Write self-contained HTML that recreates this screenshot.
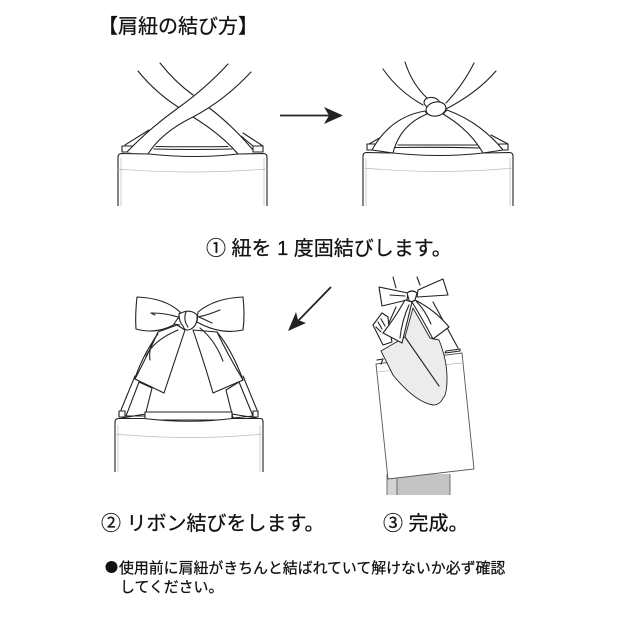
<!DOCTYPE html>
<html><head><meta charset="utf-8"><style>
html,body{margin:0;padding:0;background:#fff}
svg{display:block}
text{font-family:"Liberation Sans","Noto Sans CJK JP",sans-serif;fill:#111;stroke:#111;stroke-width:.25}
.l{fill:none;stroke:#222;stroke-width:1.1;stroke-linecap:round;stroke-linejoin:round}
.w{fill:#fff;stroke:#222;stroke-width:1.1;stroke-linejoin:round}
.s{fill:none;stroke:#bbb;stroke-width:.7}
</style></head><body>
<svg width="620" height="620" viewBox="0 0 620 620" xmlns="http://www.w3.org/2000/svg">
<rect width="620" height="620" fill="#fff"/>
<text x="98" y="33" font-size="20">【肩紐の結び方】</text>

<!-- panel 1 -->
<g>
<path class="w" d="M122 146H133V152H122Z"/>
<path class="w" d="M253 146H263V152H253Z"/>
<path class="l" d="M125 145L149 130M133 147L147 133M263 146L243 133M253 146L241 136"/>
<path class="l" d="M156 146.500Q192 147 228 146.500M154 149Q192 150 232 149"/>
<path class="l" d="M138 71Q155 92 178 107M193 117Q222 135 238 154"/>
<path class="l" d="M160 63Q175 82 193 95M208 107Q232 125 253 150"/>
<path fill="#fff" d="M127 152Q150 128 178 108Q206 88 228 64L251 72Q225 100 193 117Q162 132 148 154Z"/>
<path class="l" d="M127 152Q150 128 178 108Q206 88 228 64M251 72Q225 100 193 117Q162 132 148 154"/>
<path class="w" d="M118 206V157Q118 154 121 153.500L149 154Q195 159 238 154L264 153.500Q267 154 267 157V206" />
<path class="s" d="M121 206V158M264 206V158M118 169Q190 175 267 169"/>
</g>

<!-- arrow 1 -->
<path d="M280 115.500H332" stroke="#222" stroke-width="1.800" fill="none"/>
<path d="M343 115.500L324 107L329 115.500L324 124Z" fill="#222"/>

<!-- panel 2 -->
<g>
<path class="w" d="M367 144H375V150H367Z"/>
<path class="w" d="M499 144H508V150H499Z"/>
<path class="l" d="M369 144L383 136M374 147L381 139M508 144L491 135M499 145L490 138"/>
<path class="l" d="M398 145H478M395 147.500Q440 147 480 148"/>
<path class="l" d="M383 69Q398 91 423 105M405 62Q412 84 427 98M474 63Q463 85 446 103M496 71Q477 93 446 109"/>
<path class="w" d="M372 150Q390 117 425 111L427 114Q400 125 393 153ZM503 150Q480 122 447 110L443 114Q470 130 483 153Z"/>
<ellipse class="w" cx="432" cy="103" rx="8" ry="5.500" transform="rotate(10 432 103)"/>
<ellipse class="w" cx="436" cy="109" rx="10" ry="7" transform="rotate(-12 436 109)"/>
<path class="w" d="M363 206V156Q363 153 366 152.500L393 153Q440 158 483 153L510 152.500Q513 153 513 156V206"/>
<path class="s" d="M366 206V158M510 206V158M363 168Q440 175 513 168"/>
</g>

<text x="206" y="255" font-size="20">① 紐を 1 度固結びします。</text>

<!-- arrow 2 -->
<path d="M331 287L297 322" stroke="#222" stroke-width="1.800" fill="none"/>
<path d="M288 331L306 323L298 320L296 312Z" fill="#222"/>

<!-- panel 3: bow -->
<g>
<path class="w" d="M119 411H125V417H119ZM253 411H258V417H253Z"/>
<path class="l" d="M121 410L135 376M257 410L243 376M160 332Q145 350 135 378M217 332Q232 350 243 380"/>
<path class="w" d="M126 416L139 382L152 388L146 412V416Z"/>
<path class="w" d="M233 418L226 390L239 382L253 416Z"/>
<path class="w" d="M145 412H232V420H145Z"/>
<path class="l" d="M122 418L145 414M232 414L256 418"/>
<path class="w" d="M115 472V422Q115 419 118 418.500H144Q190 424 232 418.500L261 418.500Q263 419 263 422V472"/>
<path class="s" d="M118 472V425M260 472V425M115 434Q190 441 263 434"/>
<path class="w" d="M137 297Q165 298 180 312L177 323Q157 335 136 329Q135 315 137 297Z"/>
<path class="w" d="M243 297Q215 298 198 312L197 322Q220 335 243 330Q245 315 243 297Z"/>
<path class="w" d="M177 325L158 332Q150 350 135 379L164 393L185 330Z"/>
<path class="w" d="M193 330L217 332Q228 355 243 380L213 393Q205 365 193 330Z"/>
<path class="l" d="M152 313Q165 313 178 317M151 313L155 315M220 310Q205 316 197 317M199 317L212 323M146 356Q154 340 178 330M223 361Q215 340 200 328M158 334Q148 345 150 360"/>
<path class="w" d="M179 314Q190 308 197 315Q198 325 191 329Q185 332 183 326Q179 322 179 314Z"/>
<path class="w" d="M178 318L174 324L180 325"/>
<path class="l" d="M186 312Q183 320 188 327"/>
</g>

<!-- panel 4: person -->
<g>
<rect x="387" y="474" width="63" height="21" fill="#c4c4c4"/>
<rect x="387" y="474" width="10" height="21" fill="#d4d4d4"/>
<path d="M387 474V495M397 474V495M450 474V495" stroke="#555" stroke-width=".8" fill="none"/>
<path class="l" d="M393 277L396 288M417 277L420 285M433 302L458 348M396 307L388 325"/>
<path class="w" d="M373 325L382 313L388 317L389 327L392 342L383 345Z"/>
<path class="l" d="M378 322L382 329M381 319L385 326M376 327L381 332"/>
<path d="M376 364L462 353L474 469L388 479Z" fill="#fff" stroke="#555" stroke-width=".9"/>
<path class="s" d="M377 372L462 363"/>
<path class="l" d="M377 360L383 359L381 364M445 353L460 351L460 349L446 351Z"/>
<path d="M381 351L405 337L413 308L430 338L439 340Q447 360 447 378Q447 395 443 398Q440 405 433 405Q415 402 393 375Z" fill="#ececec" stroke="#222" stroke-width=".9" stroke-linejoin="round"/>
<path class="l" d="M405 337L439 386"/>
<path class="w" d="M379 287L408 293L407 300L382 306Z"/>
<path class="w" d="M443 279L418 290L417 297L448 295Z"/>
<path class="w" d="M405 300Q395 318 383 333L402 343L412 302Z"/>
<path class="w" d="M412 302L415 300Q435 310 449 327L433 339Q422 318 412 302Z"/>
<path class="w" d="M407 293Q412 289 417 293L415 300Q411 303 409 300Z"/>
<path class="l" d="M390 295L405 296M400 338Q402 320 409 305M431 324Q425 310 416 301"/>
</g>

<text x="101" y="530" font-size="20">② リボン結びをします。</text>
<text x="383" y="530" font-size="20">③ 完成。</text>
<circle cx="111.500" cy="567" r="6" fill="#111"/>
<text x="119" y="573" font-size="14.900">使用前に肩紐がきちんと結ばれていて解けないか必ず確認</text>
<text x="120" y="592" font-size="14.900">してください。</text>
</svg>
</body></html>
